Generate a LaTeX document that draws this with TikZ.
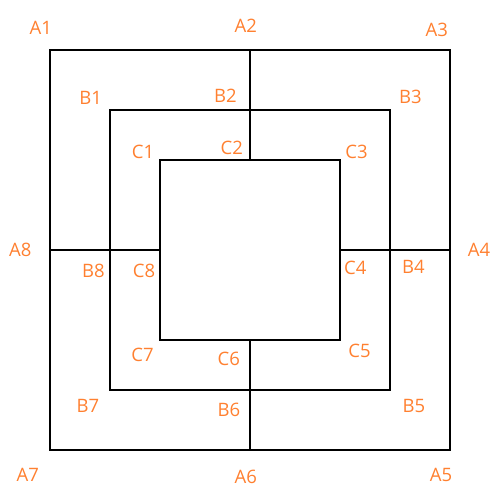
\documentclass[tikz,border=0pt]{standalone}
\usepackage{fontspec}
\setmainfont{Open Sans}
\definecolor{lbl}{RGB}{255,128,48}
\begin{document}
\begin{tikzpicture}[x=1pt,y=-1pt,
  lab/.style={text=lbl,inner sep=0pt,font=\fontsize{18.5}{20}\selectfont},
  edge/.style={draw=black,line width=1.5pt}]
\useasboundingbox (0,0) rectangle (500,500);
% squares
\node[edge,minimum width=400pt,minimum height=400pt,inner sep=0pt] (sqA) at (250,250) {};
\node[edge,minimum width=280pt,minimum height=280pt,inner sep=0pt] (sqB) at (250,250) {};
\node[edge,minimum width=180pt,minimum height=180pt,inner sep=0pt] (sqC) at (250,250) {};
% connectors
\draw[edge] (sqA.north) -- (sqC.north);
\draw[edge] (sqC.south) -- (sqA.south);
\draw[edge] (sqA.west) -- (sqC.west);
\draw[edge] (sqC.east) -- (sqA.east);
% labels
\node[lab] (A1) at (40.8,27.7) {A1};
\node[lab] (A2) at (245.7,26.3) {A2};
\node[lab] (A3) at (436.7,30) {A3};
\node[lab] (A4) at (479,250.3) {A4};
\node[lab] (A5) at (441,474.5) {A5};
\node[lab] (A6) at (245.8,477) {A6};
\node[lab] (A7) at (27.7,474.5) {A7};
\node[lab] (A8) at (20.3,249.5) {A8};
\node[lab] (B1) at (90.7,97.8) {B1};
\node[lab] (B2) at (225.3,95.5) {B2};
\node[lab] (B3) at (410.3,96.7) {B3};
\node[lab] (B4) at (413.3,267) {B4};
\node[lab] (B5) at (414,405.5) {B5};
\node[lab] (B6) at (229,410) {B6};
\node[lab] (B7) at (88,406) {B7};
\node[lab] (B8) at (93.3,271) {B8};
\node[lab] (C1) at (143,151.5) {C1};
\node[lab] (C2) at (231.7,148.3) {C2};
\node[lab] (C3) at (356.5,151.7) {C3};
\node[lab] (C4) at (355.3,267.8) {C4};
\node[lab] (C5) at (359.5,351) {C5};
\node[lab] (C6) at (228.7,359) {C6};
\node[lab] (C7) at (142.5,355) {C7};
\node[lab] (C8) at (144,271) {C8};
\end{tikzpicture}
\end{document}
